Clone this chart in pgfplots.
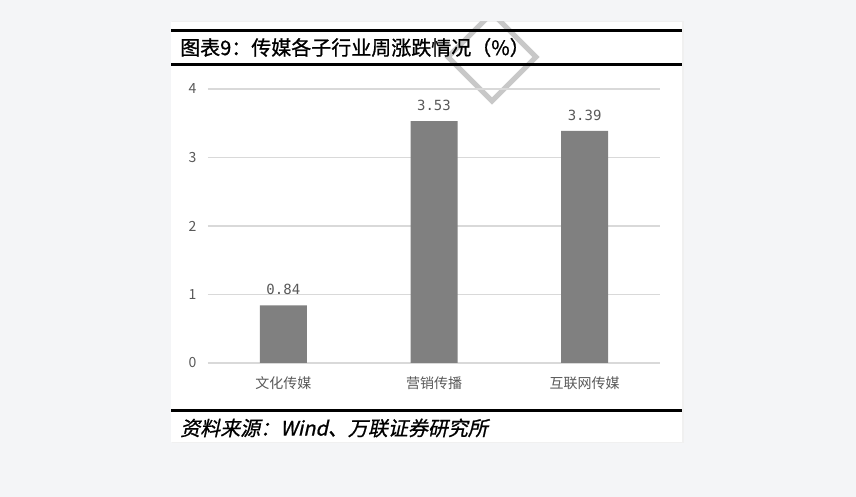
\documentclass[border=0pt]{standalone}
\usepackage{fontspec}
\usepackage{pgfplots}
\pgfplotsset{compat=1.18}
\setmainfont{Noto Sans CJK SC}
\newfontfamily\cjkit[FakeSlant=0.22,FakeBold=0.8]{Noto Sans CJK SC}
\newfontfamily\cjkbf[FakeBold=1]{Noto Sans CJK SC}
\newfontfamily\monofont{DejaVu Sans Mono}
\definecolor{bgc}{HTML}{F4F5F7}
\definecolor{gridc}{HTML}{D9D9D9}
\definecolor{barc}{HTML}{808080}
\definecolor{txtc}{HTML}{595959}
\definecolor{diamc}{HTML}{C8C8C8}
\pgfplotstableread{
x val
0 0.84
1 3.53
2 3.39
}\datatab
\begin{document}
\begin{tikzpicture}[x=1pt,y=1pt]
\fill[bgc] (0,0) rectangle (856,497);
\fill[black!6] (172,54) rectangle (684,476);
\fill[white] (171,55) rectangle (682,475);
\begin{scope}
\clip (171,55) rectangle (682,475);
\draw[diamc, line width=5pt] (492,484) -- (536,440) -- (492,396) -- (448,440) -- cycle;
\end{scope}
\draw[black, line width=3pt] (171,466.5) -- (682,466.5);
\draw[black, line width=3pt] (171,432.5) -- (682,432.5);
\draw[black, line width=3pt] (171,86.5) -- (682,86.5);
\node[anchor=west, inner sep=0pt, font=\cjkbf\fontsize{20}{24}\selectfont] at (180,449.5) {图表9：传媒各子行业周涨跌情况（\%）};
\node[anchor=west, inner sep=0pt, font=\cjkit\fontsize{20}{24}\selectfont] at (180,69) {资料来源：Wind、万联证券研究所};
\begin{axis}[
  at={(283.33pt,134pt)}, anchor=origin,
  scale only axis, width=452pt, height=274pt,
  xmin=-0.5, xmax=2.5, ymin=0, ymax=4,
  ytick={0,1,2,3,4},
  xtick=data,
  xticklabels={文化传媒,营销传播,互联网传媒},
  axis line style={draw=none},
  major tick length=0pt,
  ymajorgrids, grid style={gridc, line width=1.4pt},
  /pgf/number format/assume math mode=true,
  yticklabel style={font=\fontsize{14}{16}\selectfont, text=txtc, xshift=-8pt},
  xticklabel style={font=\fontsize{14}{16}\selectfont, text=txtc, yshift=-10pt},
  clip=false,
]
\addplot[ybar, bar width=47pt, fill=barc, draw=none,
  nodes near coords,
  nodes near coords style={font=\monofont\fontsize{14}{16}\selectfont, text=txtc, yshift=7pt},
  point meta=explicit symbolic]
  table[x=x, y=val, meta=val] {\datatab};
\end{axis}
\end{tikzpicture}
\end{document}
